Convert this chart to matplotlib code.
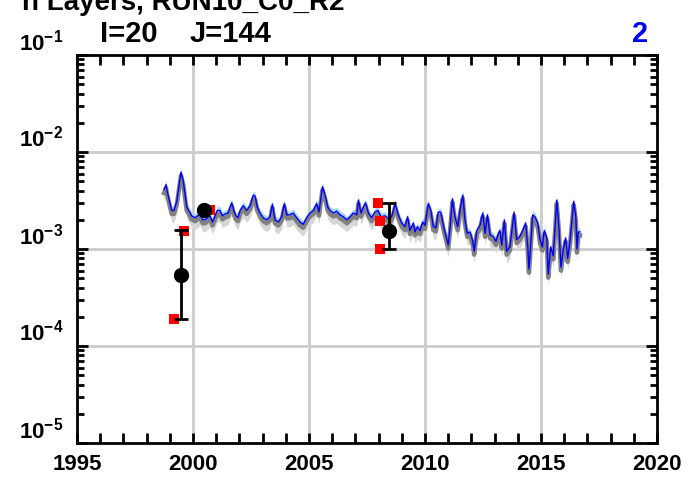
import numpy as np
import matplotlib
matplotlib.use("Agg")
import matplotlib.pyplot as plt
from matplotlib.ticker import MultipleLocator, LogLocator, NullFormatter, FixedLocator

plt.rcParams['font.family'] = ['Liberation Sans', 'DejaVu Sans']
plt.rcParams['font.weight'] = 'bold'
plt.rcParams['mathtext.fontset'] = 'custom'
plt.rcParams['mathtext.bf'] = 'Liberation Sans:bold'
plt.rcParams['mathtext.rm'] = 'Liberation Sans:bold'

# model series (decimal year, value in units of 1e-3)
model_years = [
    1998.75, 1998.84, 1998.90, 1999.00, 1999.08, 1999.18, 1999.30, 1999.48, 1999.58, 1999.73,
    1999.82, 1999.94, 2000.09, 2000.20, 2000.30, 2000.42, 2000.52, 2000.62, 2000.73, 2000.84,
    2000.95, 2001.05, 2001.16, 2001.27, 2001.38, 2001.51, 2001.67, 2001.78, 2001.85, 2001.94,
    2002.03, 2002.17, 2002.31, 2002.46, 2002.60, 2002.68, 2002.77, 2002.89, 2003.03, 2003.18,
    2003.32, 2003.42, 2003.53, 2003.68, 2003.82, 2003.94, 2004.04, 2004.18, 2004.32, 2004.47,
    2004.61, 2004.75, 2004.90, 2005.04, 2005.19, 2005.33, 2005.43, 2005.58, 2005.69, 2005.81,
    2005.91, 2006.05, 2006.19, 2006.34, 2006.48, 2006.63, 2006.77, 2006.91, 2007.06, 2007.13,
    2007.24, 2007.34, 2007.44, 2007.56, 2007.70, 2007.84, 2007.97, 2008.10, 2008.28, 2008.49,
    2008.60, 2008.71, 2008.85, 2009.00, 2009.14, 2009.25, 2009.35, 2009.50, 2009.57, 2009.67,
    2009.78, 2009.90, 2010.00, 2010.14, 2010.25, 2010.36, 2010.47, 2010.57, 2010.68, 2010.79,
    2010.91, 2011.00, 2011.08, 2011.18, 2011.29, 2011.41, 2011.51, 2011.63, 2011.72, 2011.82,
    2011.94, 2012.06, 2012.12, 2012.23, 2012.37, 2012.49, 2012.59, 2012.69, 2012.80, 2012.94,
    2013.06, 2013.16, 2013.23, 2013.31, 2013.42, 2013.52, 2013.66, 2013.84, 2013.95, 2014.09,
    2014.21, 2014.34, 2014.43, 2014.48, 2014.53, 2014.64, 2014.74, 2014.86, 2014.96, 2015.06,
    2015.14, 2015.25, 2015.31, 2015.42, 2015.53, 2015.68, 2015.78, 2015.86, 2015.96, 2016.06,
    2016.15, 2016.25, 2016.41, 2016.50, 2016.55, 2016.61, 2016.68,
]
model_vals = [
    4.1, 4.6, 3.8, 3.0, 2.5, 2.5, 3.1, 6.2, 5.0, 2.7,
    2.5, 2.2, 2.1, 2.2, 2.3, 2.0, 2.0, 2.1, 2.2, 1.9,
    2.2, 2.5, 2.5, 2.2, 2.3, 2.35, 3.0, 2.4, 2.2, 2.1,
    2.5, 2.8, 2.5, 2.8, 3.6, 3.5, 2.7, 2.35, 2.1, 2.0,
    2.15, 2.9, 2.0, 1.9, 2.15, 2.95, 2.25, 2.25, 2.35, 2.1,
    1.9, 1.8, 2.1, 2.35, 2.5, 2.95, 2.4, 4.4, 3.6, 2.7,
    2.5, 2.35, 2.45, 2.25, 2.15, 2.0, 2.15, 2.35, 2.25, 3.2,
    2.35, 2.7, 3.0, 2.35, 2.1, 2.4, 2.5, 2.15, 2.2, 2.0,
    2.3, 2.95, 2.25, 1.85, 1.7, 2.15, 1.55, 1.85, 1.5, 1.7,
    1.55, 1.9, 1.75, 2.95, 2.5, 1.7, 1.65, 2.4, 2.4, 1.75,
    1.35, 1.1, 1.65, 3.3, 2.15, 1.7, 2.5, 3.6, 2.0, 1.45,
    1.5, 1.2, 0.95, 1.55, 1.75, 2.35, 1.45, 2.25, 1.4, 1.35,
    1.2, 1.45, 1.55, 1.1, 2.0, 0.95, 1.05, 2.4, 1.25, 1.35,
    1.55, 1.85, 1.05, 0.62, 0.9, 2.25, 2.15, 1.85, 1.25, 1.05,
    1.55, 1.3, 0.55, 1.05, 0.85, 3.2, 1.55, 0.65, 0.98, 1.3,
    0.8, 1.2, 3.1, 2.15, 1.0, 1.5, 1.5,
]
# spread of the two model envelopes (fractions of the central value)
blue_band = (0.97, 1.10)
gray_shift = 0.92
gray_band = 0.82

# observations
obs_years = [1999.19, 1999.61, 2000.73, 2007.99, 2008.06, 2008.06]
obs_vals = [1.9e-4, 1.55e-3, 2.55e-3, 2.97e-3, 1.95e-3, 1.0e-3]

mean_years = [1999.48, 2000.49, 2008.46]
mean_vals = [5.4e-4, 2.5e-3, 1.53e-3]
mean_lo = [1.9e-4, 2.5e-3, 1.0e-3]
mean_hi = [1.57e-3, 2.5e-3, 3.0e-3]

t = np.array(model_years)
v = np.array(model_vals) * 1e-3
g = v * gray_shift

fig = plt.figure(figsize=(6.97, 4.78), dpi=100)
ax = fig.add_axes([77 / 697, 1 - 443 / 478, 580 / 697, 388 / 478])

ax.fill_between(t, v * blue_band[0], v * blue_band[1], color='#a6d8ff', lw=0, zorder=2)
ax.fill_between(t, g * gray_band, g, color='#d6d6d6', lw=0, zorder=2)
ax.plot(t, g, color='#808080', lw=3.2, zorder=3)
ax.plot(t, v, color='#0000ff', lw=1.0, zorder=4)

ax.plot(obs_years, obs_vals, 's', color='#ff0000', ms=7.5, mew=0, zorder=5)
yerr = [np.array(mean_vals) - np.array(mean_lo), np.array(mean_hi) - np.array(mean_vals)]
ax.errorbar(mean_years, mean_vals, yerr=yerr, fmt='o', color='black', ms=10,
            elinewidth=2, capsize=5, capthick=2, zorder=6)

ax.set_yscale('log')
ax.set_xlim(1995, 2020)
ax.set_ylim(1e-5, 1e-1)

ax.xaxis.set_major_locator(MultipleLocator(5))
ax.xaxis.set_minor_locator(MultipleLocator(1))
ax.yaxis.set_major_locator(FixedLocator([1e-5, 1e-4, 1e-3, 1e-2, 1e-1]))
ax.yaxis.set_minor_locator(LogLocator(base=10, subs=np.arange(2, 10)))
ax.yaxis.set_minor_formatter(NullFormatter())
ax.set_yticklabels([r'$\mathbf{10^{-5}}$', r'$\mathbf{10^{-4}}$', r'$\mathbf{10^{-3}}$',
                    r'$\mathbf{10^{-2}}$', r'$\mathbf{10^{-1}}$'])

for yy in [1e-4, 1e-3, 1e-2]:
    ax.axhline(yy, color='#cccccc', lw=2, zorder=1)
for xx in [2000, 2005, 2010, 2015]:
    ax.axvline(xx, color='#cccccc', lw=2, zorder=1)

ax.tick_params(which='both', direction='in', top=True, right=True, width=2, color='black')
ax.tick_params(axis='x', which='both', length=7, labelsize=16, pad=8)
ax.tick_params(axis='y', which='major', length=8, labelsize=16, pad=10)
ax.tick_params(axis='y', which='minor', length=5)
for lab in ax.get_yticklabels():
    lab.set_verticalalignment('bottom')
for s in ax.spines.values():
    s.set_linewidth(2)

fig.text(345 / 697, 1 - 10 / 478, 'n Layers, RUN10_C0_R2', ha='right', va='baseline',
         fontsize=20, fontweight='bold')
fig.text(100 / 697, 1 - 42 / 478, 'I=20', ha='left', va='baseline', fontsize=21, fontweight='bold')
fig.text(190 / 697, 1 - 42 / 478, 'J=144', ha='left', va='baseline', fontsize=21, fontweight='bold')
fig.text(648 / 697, 1 - 42 / 478, '2', ha='right', va='baseline', fontsize=21, fontweight='bold',
         color='#0000ff')

fig.savefig('out.png', dpi=100)
